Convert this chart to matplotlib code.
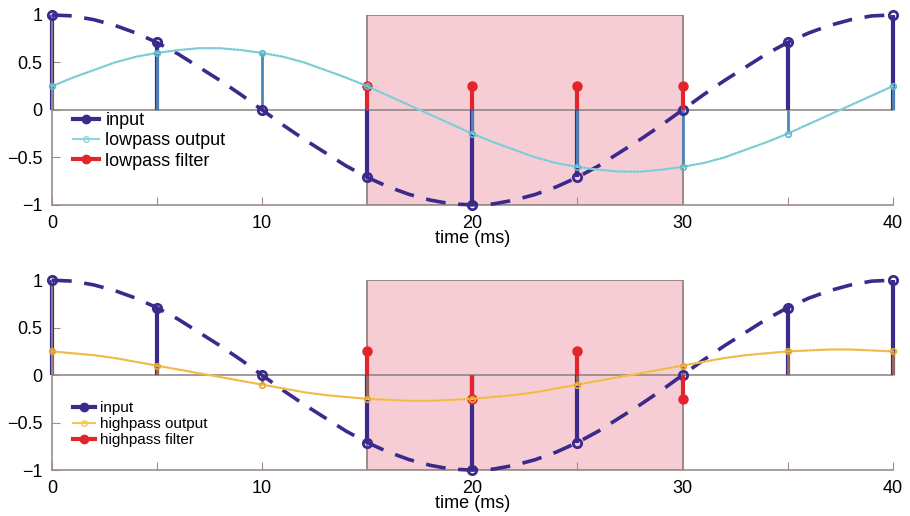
import numpy as np
import matplotlib
matplotlib.use('Agg')
from matplotlib import pyplot as plt
from matplotlib.lines import Line2D
from matplotlib.patches import Rectangle

# dense curves, one value per ms
t_curve = list(range(41))
input_curve = [1.00, 0.99, 0.95, 0.89, 0.81, 0.71, 0.59, 0.45, 0.31, 0.16,
               0.00, -0.16, -0.31, -0.45, -0.59, -0.71, -0.81, -0.89, -0.95, -0.99,
               -1.00, -0.99, -0.95, -0.89, -0.81, -0.71, -0.59, -0.45, -0.31, -0.16,
               0.00, 0.16, 0.31, 0.45, 0.59, 0.71, 0.81, 0.89, 0.95, 0.99, 1.00]
lowpass_curve = [0.25, 0.34, 0.42, 0.50, 0.56, 0.60, 0.63, 0.65, 0.65, 0.63,
                 0.60, 0.56, 0.50, 0.42, 0.34, 0.25, 0.15, 0.05, -0.05, -0.15,
                 -0.25, -0.34, -0.42, -0.50, -0.56, -0.60, -0.63, -0.65, -0.65, -0.63,
                 -0.60, -0.56, -0.50, -0.42, -0.34, -0.25, -0.15, -0.05, 0.05, 0.15, 0.25]
highpass_curve = [0.25, 0.23, 0.21, 0.18, 0.14, 0.10, 0.06, 0.02, -0.02, -0.06,
                  -0.10, -0.14, -0.18, -0.21, -0.23, -0.25, -0.26, -0.27, -0.27, -0.26,
                  -0.25, -0.23, -0.21, -0.18, -0.14, -0.10, -0.06, -0.02, 0.02, 0.06,
                  0.10, 0.14, 0.18, 0.21, 0.23, 0.25, 0.26, 0.27, 0.27, 0.26, 0.25]

# samples every 5 ms
t_samp = [0, 5, 10, 15, 20, 25, 30, 35, 40]
input_samp = [1.0, 0.71, 0.0, -0.71, -1.0, -0.71, 0.0, 0.71, 1.0]
lowpass_samp = [0.25, 0.60, 0.60, 0.25, -0.25, -0.60, -0.60, -0.25, 0.25]
highpass_samp = [0.25, 0.10, -0.10, -0.25, -0.25, -0.10, 0.10, 0.25, 0.25]

# filter taps
t_filt = [15, 20, 25, 30]
lowpass_filt = [0.25, 0.25, 0.25, 0.25]
highpass_filt = [0.25, -0.25, 0.25, -0.25]

xticks = [0, 5, 10, 15, 20, 25, 30, 35, 40]
xticklabels = ['0', '', '10', '', '20', '', '30', '', '40']
yticks = [-1, -0.5, 0, 0.5, 1]
yticklabels = ['\u22121', '\u22120.5', '0', '0.5', '1']

c_in = '#3b2a8c'
c_red = '#e3242b'
c_spine = '#9c8c8a'

plt.rcParams['font.family'] = ['Liberation Sans', 'DejaVu Sans']

fig = plt.figure(figsize=(9.1, 5.16), dpi=100)
ax1 = fig.add_axes([0.057, 0.603, 0.924, 0.368])
ax2 = fig.add_axes([0.057, 0.089, 0.924, 0.368])

panels = [
    (ax1, lowpass_curve, lowpass_samp, lowpass_filt, '#8dd6de', '#5fb8c8', '#4d86b8',
     ['input', 'lowpass output', 'lowpass filter'], 13, 0.337, 0.18),
    (ax2, highpass_curve, highpass_samp, highpass_filt, '#f6c55a', '#e8a62c', '#9a6a5a',
     ['input', 'highpass output', 'highpass filter'], 11, 0.242, 0.12),
]

for ax, curve, samp, filt, c_out, c_dot, c_ostem, labels, lfs, ly, lsp in panels:
    ax.add_patch(Rectangle((15, -1), 15, 2, facecolor='#f6cdd4',
                           edgecolor='#8c7c7a', lw=1.2, zorder=0.5))
    ax.axhline(0, color='#8a8080', lw=1.1, zorder=1)

    # input
    ax.plot(t_curve, input_curve, color=c_in, lw=2.6, dashes=(5.5, 3.5),
            zorder=3, clip_on=False)
    ax.vlines(t_samp, 0, input_samp, color=c_in, lw=3, zorder=2, clip_on=False)
    ax.plot(t_samp, input_samp, 'o', color=c_in, mfc='none', mew=2, ms=6,
            zorder=4, clip_on=False)

    # output stems
    ax.vlines(t_samp, 0, samp, color=c_ostem, lw=2, zorder=2.5, clip_on=False)

    # filter
    ax.vlines(t_filt, 0, filt, color=c_red, lw=3, zorder=5)
    ax.plot(t_filt, filt, 'o', color=c_red, ms=6.5, zorder=5)

    # output curve
    ax.plot(t_curve, curve, color=c_out, lw=1.6, zorder=6, clip_on=False)
    ax.plot(t_curve, curve, color=c_dot, lw=0.9, ls=(0, (1, 1.5)), zorder=6,
            clip_on=False)
    ax.plot(t_samp, samp, 'o', color=c_dot, mfc='none', mew=1.2, ms=4,
            zorder=7, clip_on=False)

    ax.set_xlim(0, 40)
    ax.set_ylim(-1, 1)
    for s in ['top', 'right']:
        ax.spines[s].set_visible(False)
    for s in ['left', 'bottom']:
        ax.spines[s].set_color(c_spine)
        ax.spines[s].set_linewidth(1.2)
    ax.set_xticks(xticks)
    ax.set_xticklabels(xticklabels)
    ax.set_yticks(yticks)
    ax.set_yticklabels(yticklabels)
    ax.tick_params(direction='in', length=6, color=c_spine, labelsize=13,
                   pad=7)
    ax.set_xlabel('time (ms)', fontsize=13, labelpad=-1)

    handles = [
        Line2D([], [], color=c_in, lw=3, marker='o', ms=6, markevery=[2]),
        Line2D([], [], color=c_out, lw=1.5, marker='o', mfc='none', ms=4,
               markevery=[2]),
        Line2D([], [], color=c_red, lw=3, marker='o', ms=6, markevery=[2]),
    ]
    ax.legend(handles, labels, loc='center left', bbox_to_anchor=(0.025, ly),
              frameon=False, fontsize=lfs, numpoints=1, handlelength=1.45,
              handletextpad=0.35, labelspacing=lsp, borderpad=0,
              borderaxespad=0)

fig.savefig('out.png', dpi=100)
